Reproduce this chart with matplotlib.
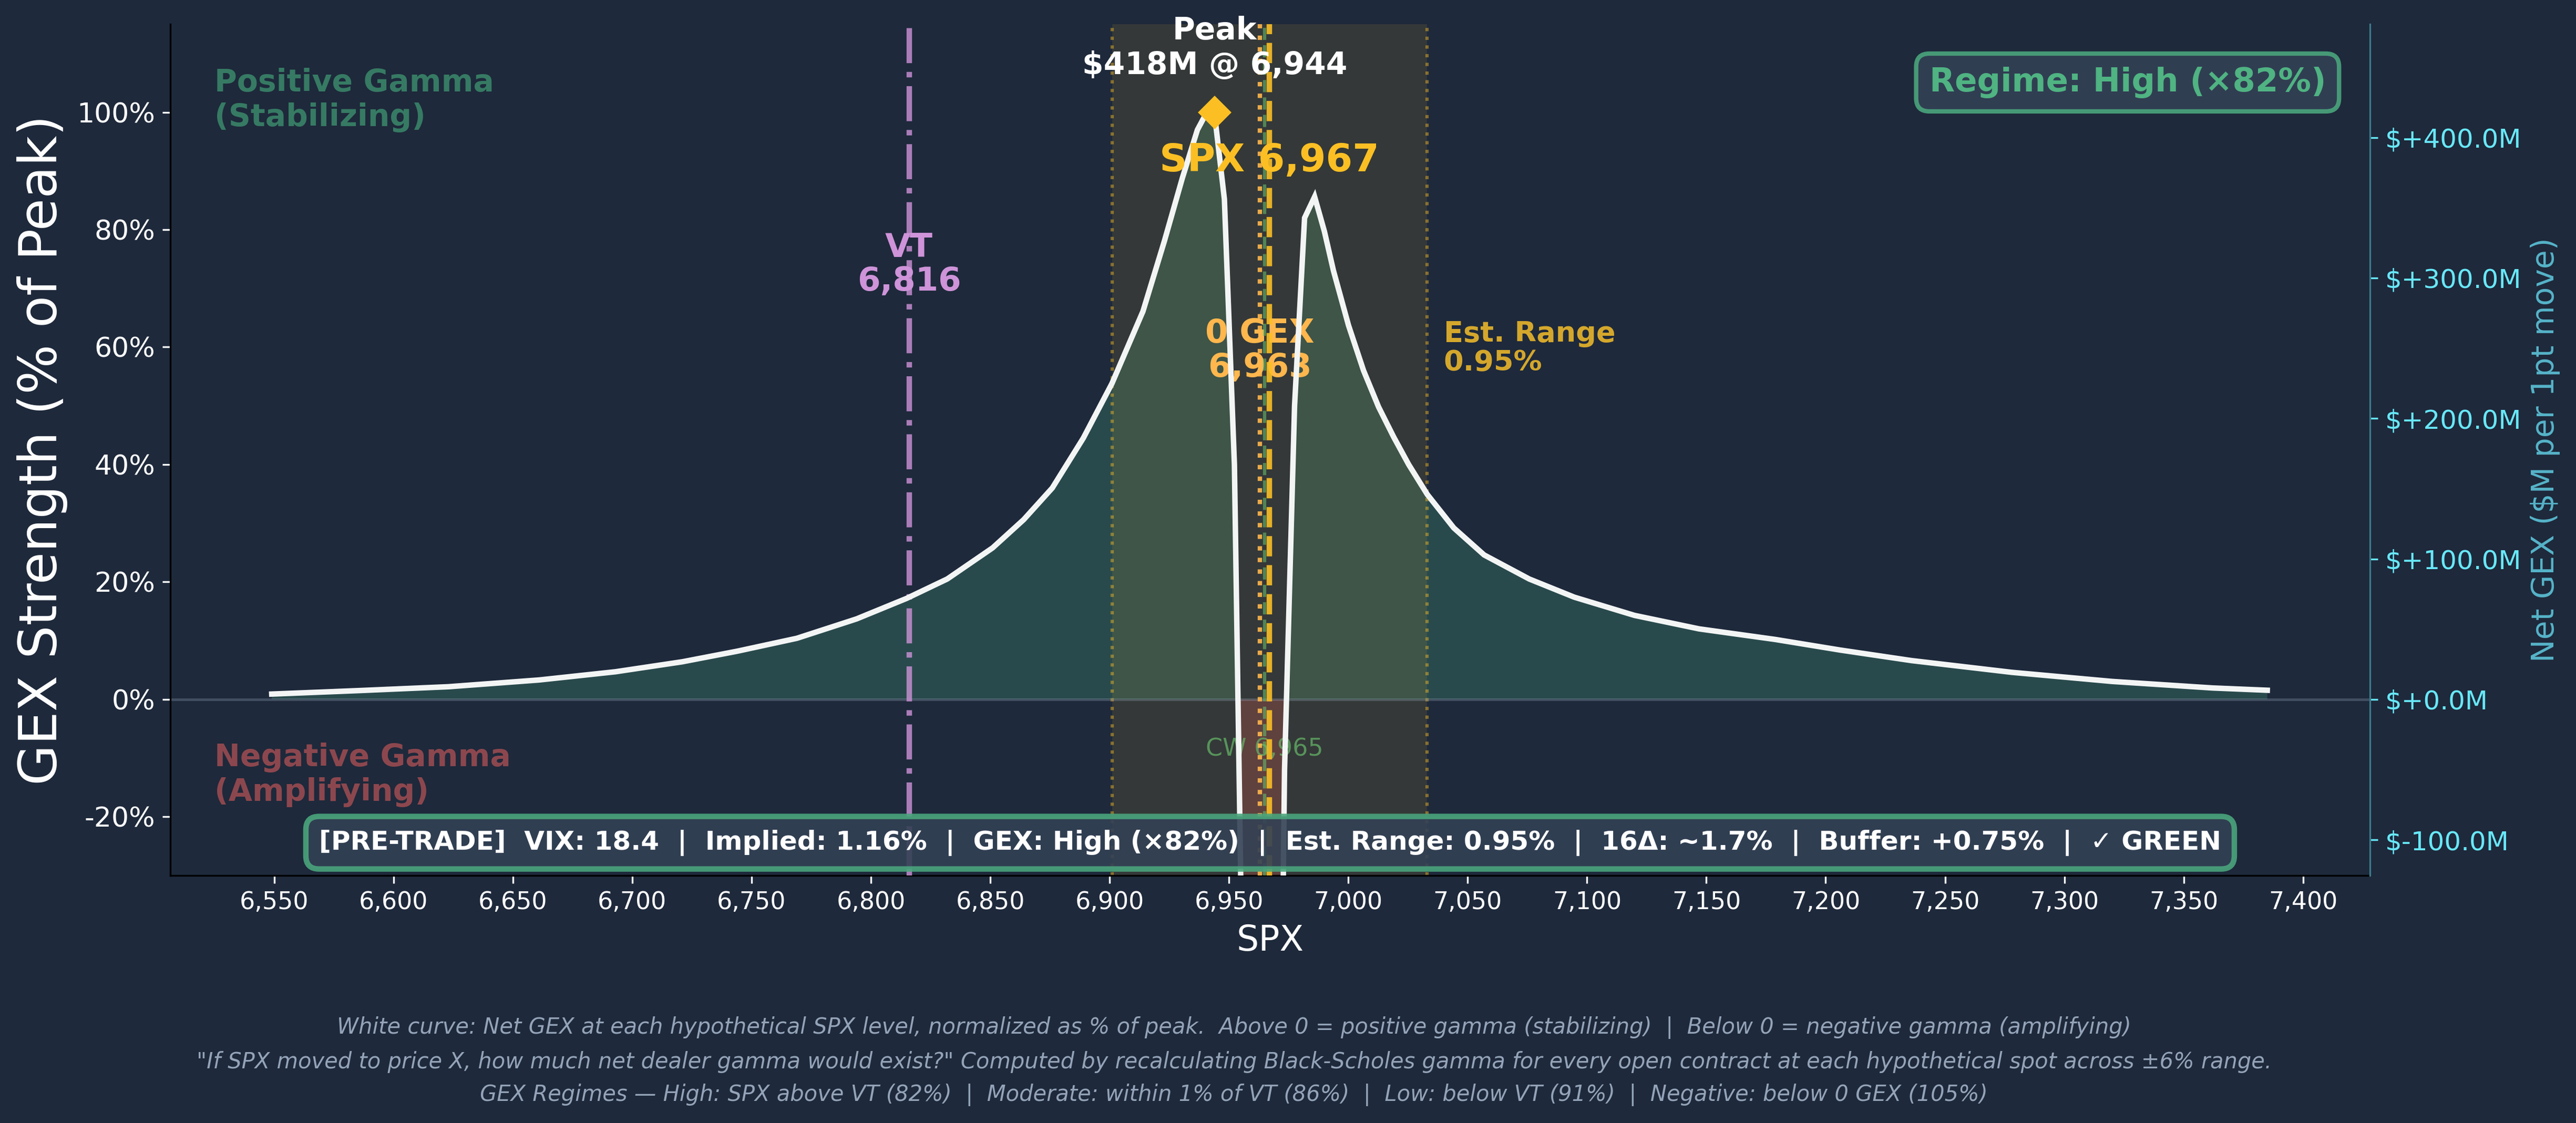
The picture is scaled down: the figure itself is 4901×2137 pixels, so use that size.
import matplotlib
matplotlib.use("Agg")
import matplotlib.pyplot as plt
from matplotlib.ticker import FuncFormatter
import numpy as np

# ---------------- data ----------------
spx_levels = [6549, 6586, 6623, 6661, 6693, 6721, 6744, 6769, 6794, 6815,
              6832, 6851, 6864, 6876, 6889, 6901, 6914, 6923, 6930.5, 6936.8,
              6939.7, 6943.9, 6948.1, 6952.3, 6956.5, 6960.7, 6964.9, 6969.1,
              6973.3, 6977.5, 6981.7, 6985.9, 6990.0, 6993.8, 7000.1, 7006.4,
              7012.7, 7019.0, 7025.3, 7033.1, 7044.2, 7056.9, 7075.8, 7094.7,
              7119.9, 7147.0, 7178.9, 7206, 7236, 7278, 7320, 7362, 7385]
gex_pct = [0.9, 1.5, 2.15, 3.3, 4.7, 6.4, 8.2, 10.4, 13.7, 17.2,
           20.5, 25.8, 30.6, 36.0, 44.5, 53.8, 66.1, 78.1, 88.8, 97.0,
           99.2, 100.0, 85.2, 40.0, -72.0, -150.0, -180.0, -160.0,
           -12.0, 50.0, 82.0, 85.6, 79.7, 73.0, 63.7, 56.0,
           49.8, 44.7, 40.0, 34.9, 29.2, 24.6, 20.5, 17.4,
           14.3, 12.0, 10.2, 8.4, 6.6, 4.6, 3.05, 1.94, 1.55]

peak_gex_m = 418          # $M at 100%
peak_spx = 6944
spot = 6967
zero_gex = 6963
call_wall = 6965
vol_trigger = 6816
est_range_pct = 0.95
range_lo = 6901
range_hi = 7033

x_ticks = list(range(6550, 7401, 50))
y_ticks = [-20, 0, 20, 40, 60, 80, 100]
y2_ticks = [-100, 0, 100, 200, 300, 400]

status_text = ("[PRE-TRADE]  VIX: 18.4  |  Implied: 1.16%  |  GEX: High (×82%)  |  "
               "Est. Range: 0.95%  |  16Δ: ~1.7%  |  Buffer: +0.75%  |  ✓ GREEN")
regime_text = "Regime: High (×82%)"
caption_lines = [
    "White curve: Net GEX at each hypothetical SPX level, normalized as % of peak.  "
    "Above 0 = positive gamma (stabilizing)  |  Below 0 = negative gamma (amplifying)",
    "\"If SPX moved to price X, how much net dealer gamma would exist?\" Computed by "
    "recalculating Black-Scholes gamma for every open contract at each hypothetical spot across ±6% range.",
    "GEX Regimes — High: SPX above VT (82%)  |  Moderate: within 1% of VT (86%)  |  "
    "Low: below VT (91%)  |  Negative: below 0 GEX (105%)",
]

# ---------------- styling ----------------
BG = "#1e293b"
GOLD = "#fbbf24"
ORANGE = "#ffb74d"
PURPLE = "#ce93d8"
GREEN = "#66bb6a"
plt.rcParams["font.family"] = ["DejaVu Sans"]

fig = plt.figure(figsize=(4901 / 300, 2137 / 300), dpi=300, facecolor=BG)
ax = fig.add_axes([0.0661, 0.2204, 0.8539, 0.7581], facecolor=BG)

x = np.array(spx_levels, dtype=float)
y = np.array(gex_pct, dtype=float)

ax.fill_between(x, 0, y, where=y >= 0, interpolate=True, color="#294a4d", lw=0, zorder=1)
ax.fill_between(x, 0, y, where=y < 0, interpolate=True, color="#4e3342", lw=0, zorder=1)

ax.axvspan(range_lo, range_hi, color=GOLD, alpha=0.10, lw=0, zorder=1.5)
for xv in (range_lo, range_hi):
    ax.axvline(xv, color=GOLD, alpha=0.45, lw=1.5, ls=":", zorder=1.6)

ax.axhline(0, color="#94a3b8", alpha=0.3, lw=1.2, zorder=1.7)

ax.plot(x, y, color="#f3f5f5", lw=2.5, zorder=5, solid_joinstyle="miter")

ax.axvline(vol_trigger, color=PURPLE, alpha=0.8, lw=2.5, ls="-.", zorder=4)
ax.axvline(zero_gex, color=ORANGE, alpha=0.9, lw=2.0, ls=":", zorder=4)
ax.axvline(call_wall, color=GREEN, alpha=0.6, lw=1.5, ls="--", zorder=4)
ax.axvline(spot, color=GOLD, alpha=0.9, lw=2.5, ls="--", zorder=4)

ax.plot([peak_spx], [100], marker="D", ms=10, color=GOLD, mec=GOLD, zorder=6, ls="none")

ax.text(peak_spx, 105.4, f"Peak\n${peak_gex_m}M @ {peak_spx:,}", color="white",
        fontsize=14, fontweight="bold", ha="center", va="bottom", zorder=7)
ax.text(spot, 91.8, f"SPX {spot:,}", color=GOLD, fontsize=17.5, fontweight="bold",
        ha="center", va="center", zorder=7)
ax.text(zero_gex, 59.4, f"0 GEX\n{zero_gex:,}", color=ORANGE, fontsize=15,
        fontweight="bold", ha="center", va="center", zorder=3, linespacing=1.1)
ax.text(vol_trigger, 74.0, f"VT\n{vol_trigger:,}", color=PURPLE, fontsize=15,
        fontweight="bold", ha="center", va="center", zorder=3, linespacing=1.1)
ax.text(range_hi + 7, 59.8, f"Est. Range\n{est_range_pct:.2f}%", color="#d4a72c",
        fontsize=13, fontweight="bold", ha="left", va="center", zorder=3, linespacing=1.1)
ax.text(call_wall, -8.5, f"CW {call_wall:,}", color=GREEN, alpha=0.7, fontsize=11,
        ha="center", va="center", zorder=3)

ax.text(0.02, 0.949, "Positive Gamma\n(Stabilizing)", transform=ax.transAxes,
        color="#367a63", fontsize=14, fontweight="bold", ha="left", va="top")
ax.text(0.02, 0.080, "Negative Gamma\n(Amplifying)", transform=ax.transAxes,
        color="#8c474e", fontsize=14, fontweight="bold", ha="left", va="bottom")

ax.text(0.98, 0.95, regime_text, transform=ax.transAxes, color="#4fb382",
        fontsize=15, fontweight="bold", ha="right", va="top", zorder=8,
        bbox=dict(boxstyle="round,pad=0.4", fc="#334155", ec="#4aa57c", lw=2, alpha=0.9))
ax.text(0.5, 0.0385, status_text, transform=ax.transAxes, color="white",
        fontsize=12, fontweight="bold", ha="center", va="center", zorder=8,
        bbox=dict(boxstyle="round,pad=0.5", fc="#334155", ec="#4aa57c", lw=2.5, alpha=0.9))

ax.set_xlim(6506.5, 7428)
ax.set_ylim(-30, 115)
ax.set_xticks(x_ticks)
ax.xaxis.set_major_formatter(FuncFormatter(lambda v, p: f"{v:,.0f}"))
ax.set_yticks(y_ticks)
ax.yaxis.set_major_formatter(FuncFormatter(lambda v, p: f"{v:.0f}%"))
ax.tick_params(axis="x", colors="white", labelsize=11)
ax.tick_params(axis="y", colors="white", labelsize=12.5)
ax.set_xlabel("SPX", color="white", fontsize=16)
ax.set_ylabel("GEX Strength (% of Peak)", color="white", fontsize=24)
for s in ("top", "right"):
    ax.spines[s].set_visible(False)
for s in ("left", "bottom"):
    ax.spines[s].set_color("black")

ax2 = ax.twinx()
ax2.set_ylim(-30 * peak_gex_m / 100, 115 * peak_gex_m / 100)
ax2.set_yticks(y2_ticks)
ax2.yaxis.set_major_formatter(FuncFormatter(lambda v, p: f"${v:+.1f}M"))
ax2.tick_params(axis="y", colors="#67e8f9", labelsize=12)
ax2.set_ylabel("Net GEX ($M per 1pt move)", color="#56b4c9", fontsize=14)
for s in ("top", "left", "bottom"):
    ax2.spines[s].set_visible(False)
ax2.spines["right"].set_color("#3a7a8a")

cap_y = [0.0847, 0.0543, 0.0252]
for line, yy in zip(caption_lines, cap_y):
    fig.text(0.479, yy, line, color="#94a3b8", fontsize=10, style="italic",
             ha="center", va="center")

fig.savefig("out.png", dpi=300, facecolor=BG)
